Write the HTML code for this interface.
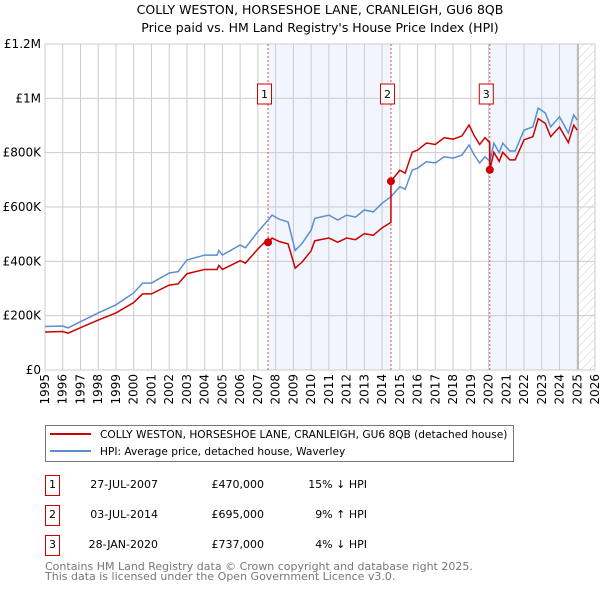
<!DOCTYPE html>
<html><head><meta charset="utf-8"><style>
body{margin:0;background:#fff;}
svg{display:block;font-family:"DejaVu Sans","Liberation Sans",sans-serif;}
</style></head><body>
<svg id="chart" width="600" height="590" viewBox="0 0 600 590">
<text x="320" y="14" text-anchor="middle" font-size="12.5" fill="#000">COLLY WESTON, HORSESHOE LANE, CRANLEIGH, GU6 8QB</text>
<text x="320" y="32" text-anchor="middle" font-size="12.5" fill="#000">Price paid vs. HM Land Registry's House Price Index (HPI)</text>
<g id="plot"></g>
<g>
<rect x="45.5" y="425.5" width="468" height="36" fill="#fff" stroke="#777"/>
<line x1="50" y1="434" x2="91" y2="434" stroke="#cc0000" stroke-width="2"/>
<text x="100" y="438" font-size="10.6">COLLY WESTON, HORSESHOE LANE, CRANLEIGH, GU6 8QB (detached house)</text>
<line x1="50" y1="451" x2="91" y2="451" stroke="#5b8fd0" stroke-width="2"/>
<text x="100" y="455" font-size="10.6">HPI: Average price, detached house, Waverley</text>
</g>
<g font-size="11">
<g><rect x="45.5" y="475.5" width="14" height="20" fill="none" stroke="#cc0000"/><text x="52.5" y="488" text-anchor="middle">1</text><text x="158" y="488" text-anchor="end">27-JUL-2007</text><text x="264" y="488" text-anchor="end">£470,000</text><text x="367" y="488" text-anchor="end">15% ↓ HPI</text></g>
<g><rect x="45.5" y="505.5" width="14" height="20" fill="none" stroke="#cc0000"/><text x="52.5" y="518" text-anchor="middle">2</text><text x="158" y="518" text-anchor="end">03-JUL-2014</text><text x="264" y="518" text-anchor="end">£695,000</text><text x="367" y="518" text-anchor="end">9% ↑ HPI</text></g>
<g><rect x="45.5" y="535.5" width="14" height="20" fill="none" stroke="#cc0000"/><text x="52.5" y="548" text-anchor="middle">3</text><text x="158" y="548" text-anchor="end">28-JAN-2020</text><text x="264" y="548" text-anchor="end">£737,000</text><text x="367" y="548" text-anchor="end">4% ↓ HPI</text></g>
</g>
<text x="45" y="570" font-size="11" fill="#777">Contains HM Land Registry data © Crown copyright and database right 2025.</text>
<text x="45" y="580" font-size="11" fill="#777">This data is licensed under the Open Government Licence v3.0.</text>
</svg>
<script>
const hpiYears=[1995,1996,1996.3,1997,1998,1999,2000,2000.5,2001,2002,2002.5,2003,2004,2004.7,2004.8,2005,2006,2006.3,2007,2007.5,2007.8,2008.2,2008.7,2009.0,2009.1,2009.5,2010.0,2010.2,2011,2011.5,2012,2012.5,2013,2013.5,2014,2014.5,2015,2015.3,2015.7,2016,2016.5,2017,2017.5,2018,2018.5,2018.9,2019.2,2019.5,2019.8,2020.07,2020.3,2020.6,2020.8,2021.2,2021.5,2022,2022.5,2022.8,2023.2,2023.5,2024,2024.5,2024.8,2025.0];
const hpiValues=[160000,162000,155000,178000,210000,240000,284000,320000,320000,357000,362000,405000,423000,423000,440000,423000,460000,450000,509000,546000,570000,555000,545000,467000,440000,467000,515000,558000,570000,552000,570000,563000,589000,582000,614000,638000,675000,665000,736000,743000,767000,762000,785000,780000,791000,828000,791000,762000,785000,768000,835000,800000,835000,806000,806000,883000,895000,964000,946000,895000,932000,872000,939000,920000];
const saleLabels=["1","2","3"];
const saleDates=[2007.57,2014.50,2020.07];
const salePrices=[470000,695000,737000];
const yTicks=[0,200000,400000,600000,800000,1000000,1200000];
const yTickLabels=["£0","£200K","£400K","£600K","£800K","£1M","£1.2M"];
const xTicks=[1995,1996,1997,1998,1999,2000,2001,2002,2003,2004,2005,2006,2007,2008,2009,2010,2011,2012,2013,2014,2015,2016,2017,2018,2019,2020,2021,2022,2023,2024,2025,2026];
const earlyRatio=0.875;

const L=45,R=595,T=44,B=370,X0=1995,X1=2026,YMAX=1200000;
const sx=v=>L+(v-X0)/(X1-X0)*(R-L);
const sy=v=>B-v/YMAX*(B-T);
const NS="http://www.w3.org/2000/svg";
const g=document.getElementById('plot');
function mk(tag,attrs,parent){const e=document.createElementNS(NS,tag);for(const k in attrs)e.setAttribute(k,attrs[k]);(parent||g).appendChild(e);return e;}

for(let i=0;i<2;i++){
  const x1=sx(i===0?saleDates[0]:saleDates[2]),x2=sx(i===0?saleDates[1]:2025.05);
  const r=mk('rect',{x:x1,y:T,width:x2-x1,height:B-T,fill:'#eef3fc',opacity:0.8});
  
  
}
const defs=mk('defs',{});
const pat=mk('pattern',{id:'hatch',width:6,height:6,patternUnits:'userSpaceOnUse',patternTransform:'rotate(45)'},defs);
mk('line',{x1:0,y1:0,x2:0,y2:6,stroke:'#ccc','stroke-width':1},pat);
const hx=sx(2025.05);
const hr=mk('rect',{x:hx,y:T,width:R-hx,height:B-T,fill:'url(#hatch)'});



yTicks.forEach((v,i)=>{
  const ln=mk('line',{x1:L,x2:R,y1:sy(v),y2:sy(v),stroke:'#ccc','stroke-width':1});
  
  
  const t=mk('text',{x:L-4,y:sy(v)+4,'text-anchor':'end','font-size':12});
  t.textContent=yTickLabels[i];
  
  
});
xTicks.forEach(v=>{
  const ln=mk('line',{x1:sx(v),x2:sx(v),y1:T,y2:B,stroke:'#ccc','stroke-width':1});
  
  
  const t=mk('text',{x:0,y:0,'text-anchor':'end','font-size':12,transform:`translate(${sx(v)+4},${B+4}) rotate(-90)`});
  t.textContent=v;
  
  
});
const fl=mk('line',{x1:hx,x2:hx,y1:T,y2:B,stroke:'#999','stroke-width':1});


const frame=mk('rect',{x:L,y:T,width:R-L,height:B-T,fill:'none',stroke:'#ccc'});



saleDates.forEach((d,i)=>{
  const ln=mk('line',{x1:sx(d),x2:sx(d),y1:T,y2:B,stroke:'#e05050','stroke-width':1,'stroke-dasharray':'2,2'});
  
  
});

function hpiAt(t){
  if(t<=hpiYears[0])return hpiValues[0];
  for(let i=1;i<hpiYears.length;i++){if(t<=hpiYears[i]){const f=(t-hpiYears[i-1])/(hpiYears[i]-hpiYears[i-1]);return hpiValues[i-1]+f*(hpiValues[i]-hpiValues[i-1]);}}
  return hpiValues[hpiValues.length-1];
}
const hpiPts=hpiYears.map((y,i)=>sx(y)+','+sy(hpiValues[i])).join(' ');
const hl=mk('polyline',{points:hpiPts,fill:'none',stroke:'#5b8fd0','stroke-width':1.5});



const ratios=salePrices.map((p,i)=>p/hpiAt(saleDates[i]));
function ratioAt(t){let r=earlyRatio;for(let i=0;i<saleDates.length;i++){if(t>=saleDates[i])r=ratios[i];}return r;}
let times=hpiYears.slice();
saleDates.forEach(d=>{times.push(d-0.001);times.push(d);});
times.sort((a,b)=>a-b);
const redPts=times.map(t=>sx(t)+','+sy(hpiAt(t)*ratioAt(t))).join(' ');
const rl=mk('polyline',{points:redPts,fill:'none',stroke:'#cc0000','stroke-width':1.5});



saleDates.forEach((d,i)=>{
  const c=mk('circle',{cx:sx(d),cy:sy(salePrices[i]),r:4,fill:'#cc0000'});
  
  
  const bx=sx(d)-10.5,by=84;
  const b=mk('rect',{x:bx,y:by,width:14,height:20,fill:'#fff',stroke:'#cc0000'});
  
  
  const t=mk('text',{x:bx+7,y:by+14,'text-anchor':'middle','font-size':11});
  t.textContent=saleLabels[i];
  
  
});
</script>
</body></html>
